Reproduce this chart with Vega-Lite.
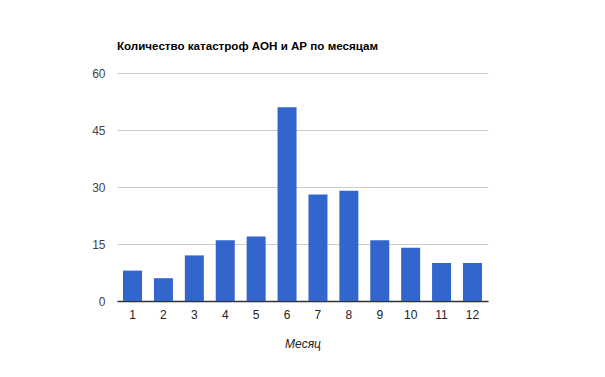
{
  "$schema": "https://vega.github.io/schema/vega-lite/v6.json",
  "autosize": "none",
  "width": 371,
  "height": 228,
  "padding": {"left": 117, "top": 73, "right": 117, "bottom": 76},
  "background": "white",
  "title": {
    "text": "Количество катастроф АОН и АР по месяцам",
    "anchor": "start",
    "frame": "group",
    "font": "Liberation Sans",
    "fontSize": 11.6,
    "fontWeight": "bold",
    "color": "#000000",
    "offset": 14,
    "dx": 0
  },
  "data": {
    "values": [
      {"month": 1, "count": 8},
      {"month": 2, "count": 6},
      {"month": 3, "count": 12},
      {"month": 4, "count": 16},
      {"month": 5, "count": 17},
      {"month": 6, "count": 51},
      {"month": 7, "count": 28},
      {"month": 8, "count": 29},
      {"month": 9, "count": 16},
      {"month": 10, "count": 14},
      {"month": 11, "count": 10},
      {"month": 12, "count": 10}
    ]
  },
  "mark": {"type": "bar", "color": "#3366CC"},
  "encoding": {
    "x": {
      "field": "month",
      "type": "ordinal",
      "scale": {"paddingInner": 0.385, "paddingOuter": 0.195},
      "axis": {
        "title": "Месяц",
        "titleFont": "Liberation Sans",
        "titleFontSize": 12,
        "titleFontStyle": "italic",
        "titleFontWeight": "normal",
        "titleColor": "#222222",
        "titlePadding": 18,
        "labelAngle": 0,
        "labelFont": "Liberation Sans",
        "labelFontSize": 12,
        "labelColor": "#222222",
        "labelPadding": 8,
        "ticks": false,
        "domainColor": "#333333",
        "domainWidth": 1.5,
        "grid": false
      }
    },
    "y": {
      "field": "count",
      "type": "quantitative",
      "scale": {"domain": [0, 60], "nice": false},
      "axis": {
        "title": null,
        "values": [0, 15, 30, 45, 60],
        "labelFont": "Liberation Sans",
        "labelFontSize": 12,
        "labelColor": "#444444",
        "labelPadding": 12,
        "ticks": false,
        "domain": false,
        "gridColor": "#cccccc",
        "gridWidth": 1
      }
    }
  },
  "config": {
    "view": {"stroke": null}
  }
}
